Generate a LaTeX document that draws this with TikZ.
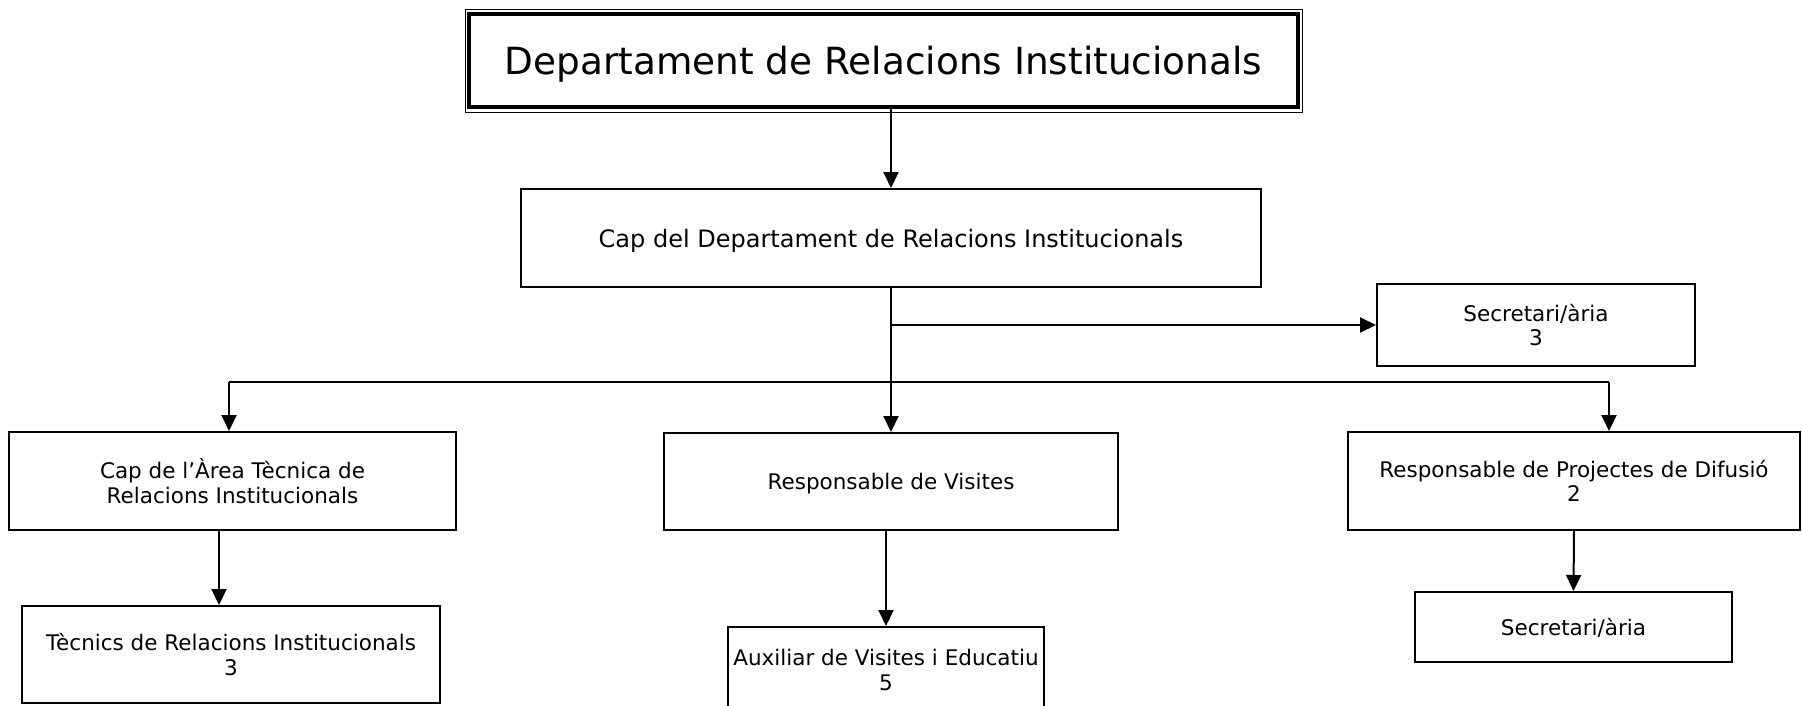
\documentclass[tikz,border=0pt]{standalone}
\usepackage{fontspec}
\setmainfont{DejaVu Sans}
\usetikzlibrary{arrows.meta,calc}
\begin{document}
\begin{tikzpicture}[x=1pt,y=-1pt,
  box/.style={draw=black, line width=2pt, inner sep=0pt, align=center,
    text depth=0pt, font=\fontsize{21.5}{24.5}\selectfont},
  arr/.style={line width=2pt, -{Triangle[length=16pt,width=15pt]}},
  conn/.style={line width=2pt}]
\useasboundingbox (0,0) rectangle (1802,705);
\clip (0,0) rectangle (1802,705);
% title
\node[draw=black, line width=4pt, minimum width=829pt, minimum height=93pt,
  inner sep=0pt, text depth=0pt, font=\fontsize{37.4}{44}\selectfont] (title) at (883.5,60.5)
  {Departament de Relacions Institucionals};
\draw[line width=1pt] (465,9) rectangle (1302,112.5);
% level 1
\node[box, minimum width=740pt, minimum height=98pt, font=\fontsize{24}{28}\selectfont] (cap) at (891,238)
  {Cap del Departament de Relacions Institucionals};
\node[box, minimum width=318pt, minimum height=82pt] (sec1) at (1536,325)
  {Secretari/ària\\3};
% level 2
\node[box, minimum width=447pt, minimum height=98pt] (area) at (232.5,481)
  {Cap de l’Àrea Tècnica de\\Relacions Institucionals};
\node[box, minimum width=454pt, minimum height=97pt] (visites) at (891,481.5)
  {Responsable de Visites};
\node[box, minimum width=452pt, minimum height=98pt] (proj) at (1574,481)
  {Responsable de Projectes de Difusió\\2};
% level 3
\node[box, minimum width=418pt, minimum height=97pt] (tecnics) at (231,654.5)
  {Tècnics de Relacions Institucionals\\3};
\node[box, minimum width=316pt, minimum height=86pt] (aux) at (886,670)
  {Auxiliar de Visites i Educatiu\\5};
\node[box, minimum width=317pt, minimum height=70pt] (sec2) at (1573.5,627)
  {Secretari/ària};
% connectors
\coordinate (bl) at (229,382);
\coordinate (br) at (1609,382);
\coordinate (ta) at (219,530);
\draw[arr] (cap.north |- title.south) -- (cap.north);
\draw[arr] (cap.south) -- (visites.north);
\draw[arr] (cap.south |- sec1.west) -- (sec1.west);
\draw[conn] (bl) -- (br);
\draw[arr] (bl) -- (bl |- area.north);
\draw[arr] (br) -- (br |- proj.north);
\draw[arr] (ta) -- (ta |- tecnics.north);
\draw[arr] (aux.north |- visites.south) -- (aux.north);
\draw[arr] (proj.south) -- (sec2.north);
\end{tikzpicture}
\end{document}
